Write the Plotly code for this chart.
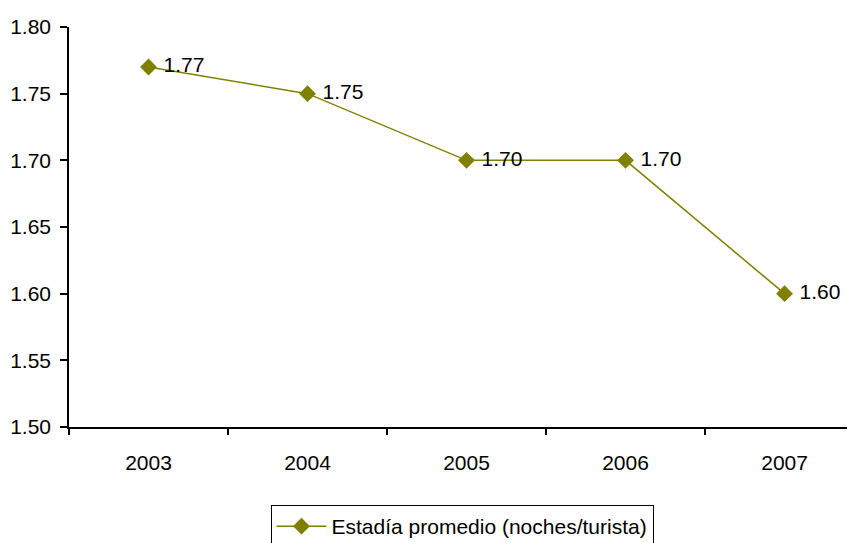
import plotly.graph_objects as go

years = ["2003", "2004", "2005", "2006", "2007"]
estadia = [1.77, 1.75, 1.70, 1.70, 1.60]
series_name = "Estadía promedio (noches/turista)"

olive = "#808000"
font = dict(family="Liberation Sans, Arial, sans-serif", size=21, color="black")

fig = go.Figure()
fig.add_trace(go.Scatter(
    x=years, y=estadia, mode="lines+markers+text", name=series_name,
    texttemplate=" %{y:.2f}", textposition="middle right", textfont=font,
    line=dict(color=olive, width=1.5),
    marker=dict(symbol="diamond", size=13, color=olive),
    cliponaxis=False,
))

# page body has an 8px margin; compensate so the plot lands where the reference has it
fig.update_layout(
    width=847, height=535,
    margin=dict(l=61, r=0, t=19, b=116, autoexpand=False),
    paper_bgcolor="white", plot_bgcolor="white",
    font=font,
    showlegend=True,
    legend=dict(orientation="h", x=0.5, xanchor="center", yref="container",
                y=0.071, yanchor="top",
                bordercolor="black", borderwidth=1, font=font, itemwidth=50),
    xaxis=dict(type="category", range=[-0.5, 4.443], showline=True, linecolor="black",
               linewidth=1.5, ticks="outside", tickson="boundaries", ticklen=6,
               tickcolor="black", tickwidth=1.5, showgrid=False, zeroline=False,
               tickfont=font, ticklabelstandoff=16, automargin=False),
    yaxis=dict(range=[1.50, 1.80], dtick=0.05, tickformat=".2f", showline=True,
               linecolor="black", linewidth=1.5, ticks="outside", ticklen=7,
               tickcolor="black", tickwidth=1.5, showgrid=False, zeroline=False,
               tickfont=font, ticklabelstandoff=5, automargin=False),
)

fig.write_html("out.html")
